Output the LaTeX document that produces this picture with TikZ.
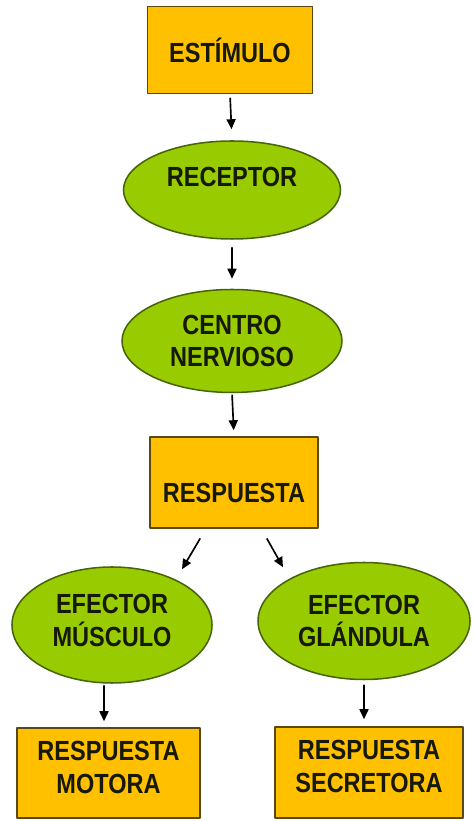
\documentclass[tikz,border=0pt]{standalone}
\usepackage{fontspec}
\newfontfamily\lblfont[FakeStretch=0.85]{Liberation Sans}
\usetikzlibrary{shapes.geometric,arrows.meta}
\definecolor{Bxfill}{RGB}{255,192,0}
\definecolor{Bxline}{RGB}{90,72,18}
\definecolor{Elfill}{RGB}{153,204,0}
\definecolor{Elline}{RGB}{70,100,10}
\definecolor{Txt}{RGB}{22,24,8}

\begin{document}
\begin{tikzpicture}[x=1in,y=1in,line cap=round,line join=round,
  caja/.style={rectangle,draw=Bxline,line width=1.1pt,fill=Bxfill,inner sep=0pt,align=center,text=Txt,font=\lblfont\bfseries\fontsize{20}{23.8}\selectfont},
  elipse/.style={ellipse,draw=Elline,line width=1.1pt,fill=Elfill,inner sep=0pt,align=center,text=Txt,font=\lblfont\bfseries\fontsize{20}{23.8}\selectfont},
  flecha/.style={line width=1.2pt,-{Triangle[length=0.10in,width=0.09in]}}]
\path[use as bounding box] (0,0) rectangle (4.75,8.21);
\node[caja,minimum width=1.65in,minimum height=0.87in] (estimulo) at (2.3000,7.7100) {ESTÍMULO};
\node[elipse,minimum width=2.17in,minimum height=0.98in,text depth=0.26in] (receptor) at (2.3200,6.3100) {RECEPTOR};
\node[elipse,minimum width=2.20in,minimum height=1.03in] (centro) at (2.3200,4.8000) {CENTRO\\NERVIOSO};
\node[caja,minimum width=1.68in,minimum height=0.91in,text height=0.40in,text depth=0pt] (respuesta) at (2.3400,3.3850) {RESPUESTA};
\node[elipse,minimum width=2.00in,minimum height=1.16in,text depth=0.10in] (musculo) at (1.1200,1.9600) {EFECTOR\\MÚSCULO};
\node[elipse,minimum width=2.12in,minimum height=1.17in] (glandula) at (3.6400,2.0000) {EFECTOR\\GLÁNDULA};
\node[caja,minimum width=1.83in,minimum height=0.90in,text depth=0.12in] (motora) at (1.0850,0.4800) {RESPUESTA\\MOTORA};
\node[caja,minimum width=1.88in,minimum height=0.91in,text depth=0.12in] (secretora) at (3.6900,0.4850) {RESPUESTA\\SECRETORA};
\draw[flecha,shorten <=0.04in,shorten >=0.11in] (estimulo.south) -- (receptor.north);
\draw[flecha,shorten <=0.08in,shorten >=0.10in] (receptor.south) -- (centro.north);
\draw[flecha,shorten <=0.02in,shorten >=0.06in] (centro.south) -- (respuesta.north);
\draw[flecha] ([xshift=-0.34in,yshift=-0.10in]respuesta.south) -- ([xshift=0.70in,yshift=-0.03in]musculo.north);
\draw[flecha] ([xshift=0.33in,yshift=-0.10in]respuesta.south) -- ([xshift=-0.81in,yshift=-0.055in]glandula.north);
\draw[flecha,shorten <=0.02in,shorten >=0.06in] ([xshift=-0.08in]musculo.south) -- ([xshift=-0.08in]musculo.south |- motora.north);
\draw[flecha,shorten <=0.05in,shorten >=0.07in] (glandula.south) -- (glandula.south |- secretora.north);
\end{tikzpicture}
\end{document}
